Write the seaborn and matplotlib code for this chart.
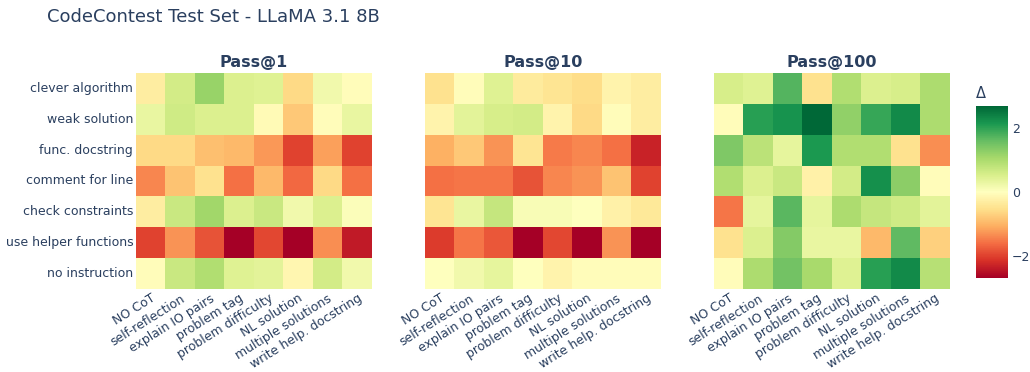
import numpy as np
import pandas as pd
import matplotlib
matplotlib.use("Agg")
import matplotlib.pyplot as plt
import seaborn as sns

rows = ["clever algorithm", "weak solution", "func. docstring", "comment for line",
        "check constraints", "use helper functions", "no instruction"]
cols = ["NO CoT", "self-reflection", "explain IO pairs", "problem tag",
        "problem difficulty", "NL solution", "multiple solutions", "write help. docstring"]
panels = ["Pass@1", "Pass@10", "Pass@100"]

pass1 = [
    [-0.3, 0.6, 1.2, 0.5, 0.45, -0.6, 0.2, -0.05],
    [0.3, 0.65, 0.5, 0.5, -0.1, -0.8, -0.05, 0.3],
    [-0.6, -0.6, -0.9, -0.95, -1.25, -2.0, -1.2, -2.0],
    [-1.4, -0.85, -0.5, -1.6, -0.95, -1.65, -0.6, -1.6],
    [-0.3, 0.7, 1.1, 0.5, 0.7, 0.2, 0.5, 0.05],
    [-2.0, -1.3, -1.85, -2.7, -1.95, -2.7, -1.35, -2.4],
    [-0.05, 0.7, 0.95, 0.45, 0.4, -0.15, 0.6, 0.2],
]
pass10 = [
    [-0.5, -0.05, 0.45, -0.35, -0.45, -0.55, -0.2, -0.3],
    [-0.2, 0.4, 0.55, 0.6, -0.2, -0.6, -0.05, -0.3],
    [-1.05, -0.8, -1.3, -0.45, -1.5, -1.4, -1.6, -2.3],
    [-1.6, -1.55, -1.55, -1.85, -1.4, -1.3, -0.85, -2.0],
    [-0.45, 0.3, 0.75, 0.1, 0.1, 0.0, -0.25, -0.4],
    [-2.05, -1.55, -1.8, -2.7, -1.95, -2.7, -1.3, -2.7],
    [0.0, 0.2, 0.35, 0.0, -0.2, -0.05, -0.05, -0.05],
]
pass100 = [
    [0.55, 0.45, 1.75, -0.5, 0.95, 0.5, 0.55, 1.0],
    [-0.05, 2.05, 2.2, 2.7, 1.25, 1.95, 2.3, 1.0],
    [1.4, 0.85, 0.35, 2.15, 0.95, 0.95, -0.5, -1.35],
    [0.95, 0.5, 0.7, -0.25, 0.6, 2.25, 1.3, -0.05],
    [-1.55, 0.35, 1.7, 0.35, 1.0, 0.75, 0.65, 0.4],
    [-0.5, 0.5, 1.35, 0.3, 0.3, -0.95, 1.65, -0.7],
    [-0.05, 1.0, 1.5, 1.05, 0.45, 2.05, 2.3, 0.9],
]
data = [pass1, pass10, pass100]

VMIN, VMAX = -2.7, 2.7
TXT = "#2a3f5f"

sns.set_theme(style="white")
plt.rcParams['font.family'] = ['DejaVu Sans']

fig = plt.figure(figsize=(10.3, 3.72), dpi=100)
lefts = [0.132, 0.4126, 0.693]
bottom, width, height = 0.223, 0.229, 0.581

mappable = None
for i, (name, vals) in enumerate(zip(panels, data)):
    ax = fig.add_axes([lefts[i], bottom, width, height])
    df = pd.DataFrame(vals, index=rows, columns=cols)
    sns.heatmap(df, ax=ax, cmap="RdYlGn", vmin=VMIN, vmax=VMAX, cbar=False,
                linewidths=0, square=False)
    ax.set_title(name, fontsize=11.5, fontweight="bold", color=TXT, pad=4)
    ax.tick_params(length=0, pad=2)
    ax.set_xticklabels(cols, rotation=32, ha="right", rotation_mode="anchor",
                       fontsize=9, color=TXT)
    if i == 0:
        ax.set_yticklabels(rows, rotation=0, fontsize=9, color=TXT)
    else:
        ax.set_yticklabels([])
    ax.set_xlabel("")
    ax.set_ylabel("")
    mappable = ax.collections[0]

cax = fig.add_axes([0.9476, 0.2527, 0.031, 0.462])
cb = fig.colorbar(mappable, cax=cax)
cb.outline.set_visible(False)
cb.set_ticks([-2, 0, 2])
cb.ax.set_yticklabels(["\u22122", "0", "2"])
cb.ax.tick_params(length=0, labelsize=9, labelcolor=TXT, pad=3)
cax.set_title("\u0394", fontsize=10.5, color=TXT, loc="left", pad=6)

fig.text(0.046, 0.955, "CodeContest Test Set - LLaMA 3.1 8B", fontsize=13,
         color=TXT, ha="left", va="center")

fig.savefig("out.png", dpi=100)
